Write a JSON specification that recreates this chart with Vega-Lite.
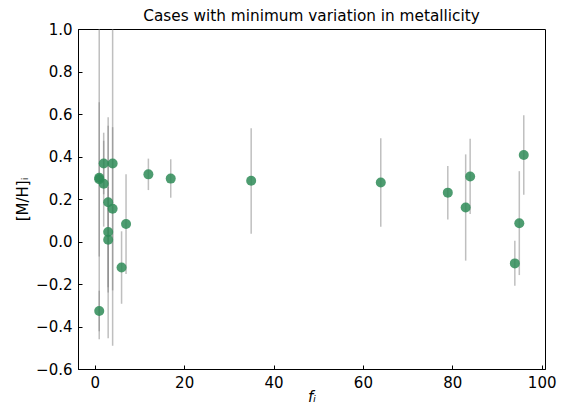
{
  "$schema": "https://vega.github.io/schema/vega-lite/v6.json",
  "width": 467,
  "height": 340,
  "autosize": {"type": "none"},
  "padding": {"left": 78, "top": 29, "right": 23, "bottom": 38},
  "background": "white",
  "config": {
    "font": "DejaVu Sans",
    "view": {"stroke": "black", "strokeWidth": 1},
    "axis": {
      "domainColor": "black",
      "tickColor": "black",
      "labelColor": "black",
      "titleColor": "black",
      "labelFontSize": 15,
      "titleFontSize": 15,
      "titleFontWeight": "normal",
      "grid": false,
      "tickSize": -4,
      "labelPadding": 10
    }
  },
  "title": {
    "text": "Cases with minimum variation in metallicity",
    "fontSize": 15.3,
    "fontWeight": "normal",
    "color": "black",
    "anchor": "middle",
    "offset": -2
  },
  "data": {
    "values": [
      {"f": 1, "m": 0.300, "lo": -0.46, "hi": 1.06},
      {"f": 1, "m": 0.293, "lo": -0.07, "hi": 0.655},
      {"f": 1, "m": -0.327, "lo": -0.422, "hi": -0.232},
      {"f": 2, "m": 0.367, "lo": 0.222, "hi": 0.512},
      {"f": 2, "m": 0.272, "lo": 0.07, "hi": 0.474},
      {"f": 3, "m": 0.185, "lo": -0.215, "hi": 0.585},
      {"f": 3, "m": 0.045, "lo": -0.455, "hi": 0.545},
      {"f": 3, "m": 0.008, "lo": -0.24, "hi": 0.256},
      {"f": 4, "m": 0.367, "lo": -0.49, "hi": 1.22},
      {"f": 4, "m": 0.154, "lo": -0.23, "hi": 0.538},
      {"f": 6, "m": -0.122, "lo": -0.293, "hi": 0.048},
      {"f": 7, "m": 0.082, "lo": -0.153, "hi": 0.316},
      {"f": 12, "m": 0.316, "lo": 0.242, "hi": 0.39},
      {"f": 17, "m": 0.296, "lo": 0.206, "hi": 0.387},
      {"f": 35, "m": 0.286, "lo": 0.037, "hi": 0.533},
      {"f": 64, "m": 0.278, "lo": 0.069, "hi": 0.486},
      {"f": 79, "m": 0.230, "lo": 0.103, "hi": 0.355},
      {"f": 83, "m": 0.160, "lo": -0.09, "hi": 0.41},
      {"f": 84, "m": 0.306, "lo": 0.13, "hi": 0.484},
      {"f": 94, "m": -0.103, "lo": -0.208, "hi": 0.004},
      {"f": 95, "m": 0.086, "lo": -0.158, "hi": 0.331},
      {"f": 96, "m": 0.407, "lo": 0.22, "hi": 0.594}
    ]
  },
  "encoding": {
    "x": {
      "field": "f",
      "type": "quantitative",
      "scale": {"domain": [-3.75, 100.75], "nice": false, "zero": false},
      "axis": {
        "values": [0, 20, 40, 60, 80, 100],
        "title": "fᵢ",
        "titleFontStyle": "italic",
        "titleFontSize": 15,
        "titleY": 20
      }
    }
  },
  "layer": [
    {
      "mark": {"type": "rule", "clip": true, "color": "gray", "opacity": 0.5, "strokeWidth": 1.5},
      "encoding": {
        "y": {"field": "lo", "type": "quantitative"},
        "y2": {"field": "hi"}
      }
    },
    {
      "mark": {"type": "circle", "size": 100, "color": "#2e8b57", "opacity": 0.85, "clip": true},
      "encoding": {
        "y": {
          "field": "m",
          "type": "quantitative",
          "scale": {"domain": [-0.6, 1.0], "nice": false, "zero": false},
          "axis": {
            "values": [-0.6, -0.4, -0.2, 0, 0.2, 0.4, 0.6, 0.8, 1.0],
            "format": ".1f",
            "title": "[M/H]ᵢ",
            "titleX": -56,
            "titleBaseline": "middle"
          }
        }
      }
    }
  ]
}
